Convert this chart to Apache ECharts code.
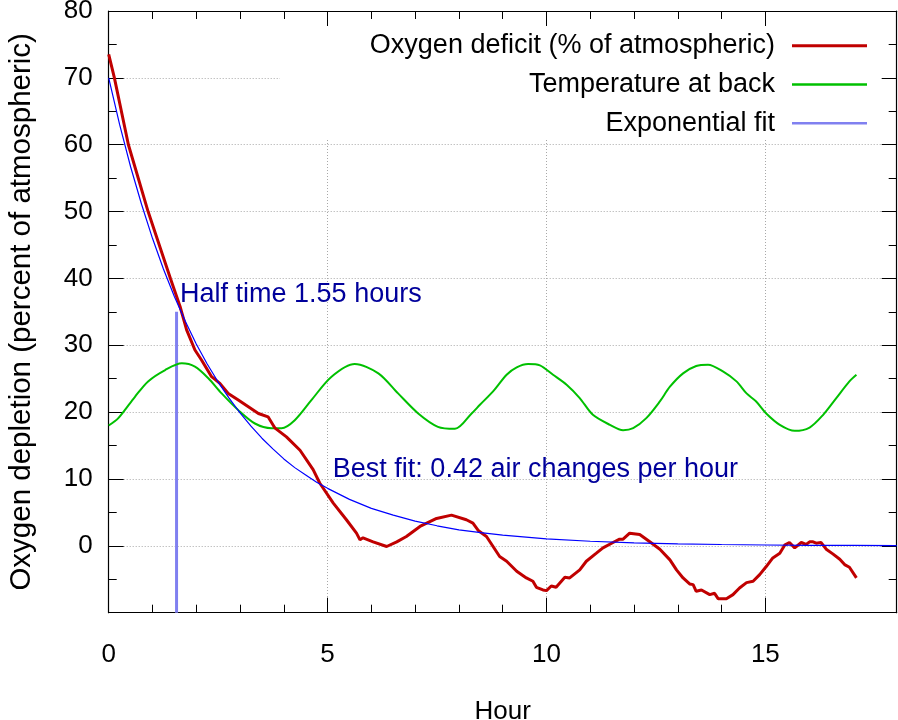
<!DOCTYPE html>
<html>
<head>
<meta charset="utf-8">
<script src="https://cdn.jsdelivr.net/npm/echarts@6/dist/echarts.min.js"></script>
<style>
html,body{margin:0;padding:0;background:#fff;}
#chart{width:898px;height:720px;}
</style>
</head>
<body>
<div id="chart"></div>
<script>
// ---- data ----
const oxyHours = [0, 0.13, 0.45, 0.9, 1.41, 1.63, 1.78, 1.97, 2.12, 2.35, 2.54, 2.73, 2.96, 3.19, 3.42, 3.64, 3.8, 4.06, 4.37, 4.67, 4.82, 5.13, 5.43, 5.66, 5.74, 5.81, 6.04, 6.35, 6.58, 6.8, 7.11, 7.49, 7.83, 8.17, 8.32, 8.44, 8.63, 8.78, 8.93, 9.09, 9.32, 9.54, 9.69, 9.77, 9.92, 10.0, 10.11, 10.22, 10.42, 10.53, 10.76, 10.91, 11.14, 11.29, 11.52, 11.67, 11.75, 11.9, 12.13, 12.36, 12.59, 12.82, 12.97, 13.12, 13.27, 13.35, 13.42, 13.54, 13.73, 13.84, 13.92, 14.11, 14.26, 14.41, 14.57, 14.72, 14.87, 15.02, 15.17, 15.33, 15.44, 15.55, 15.67, 15.82, 15.93, 16.01, 16.09, 16.16, 16.27, 16.39, 16.54, 16.7, 16.81, 16.92, 17.08];
const oxyValues = [73.5, 70, 60, 50, 40, 35.8, 32.3, 29.3, 27.8, 25.3, 24.3, 22.8, 21.8, 20.8, 19.8, 19.3, 17.6, 16.3, 14.3, 11.4, 9.4, 6.4, 3.9, 1.9, 0.9, 1.2, 0.6, -0.1, 0.6, 1.4, 2.9, 4.1, 4.6, 3.9, 3.4, 2.3, 1.4, -0.1, -1.6, -2.3, -3.8, -4.8, -5.3, -6.2, -6.6, -6.7, -6.0, -6.2, -4.7, -4.8, -3.6, -2.3, -1.1, -0.3, 0.5, 1.0, 1.0, 1.9, 1.7, 0.6, -0.5, -2.1, -3.6, -4.8, -5.7, -5.8, -6.8, -6.6, -7.3, -7.1, -7.9, -7.9, -7.3, -6.3, -5.5, -5.3, -4.3, -3.1, -1.8, -1.1, 0.1, 0.5, -0.3, 0.5, 0.2, 0.6, 0.6, 0.4, 0.5, -0.5, -1.2, -2.0, -2.8, -3.2, -4.8];

const tempHours = [0, 0.22, 0.6, 0.9, 1.29, 1.67, 1.97, 2.27, 2.58, 2.96, 3.34, 3.72, 3.95, 4.25, 4.63, 5.09, 5.62, 6.16, 6.61, 7.07, 7.52, 7.91, 8.29, 8.48, 8.78, 9.09, 9.32, 9.58, 9.85, 10.15, 10.46, 10.76, 11.06, 11.45, 11.75, 11.98, 12.28, 12.59, 12.82, 13.12, 13.42, 13.69, 14.03, 14.34, 14.57, 14.79, 15.02, 15.33, 15.67, 16.01, 16.32, 16.62, 16.92, 17.08];
const tempValues = [18.0, 19.1, 22.3, 24.6, 26.3, 27.3, 26.8, 25.1, 22.8, 20.3, 18.3, 17.6, 17.6, 18.8, 21.8, 25.3, 27.2, 25.8, 22.8, 19.8, 17.8, 17.5, 19.8, 21.1, 23.1, 25.6, 26.7, 27.2, 27.0, 25.6, 24.1, 22.1, 19.6, 18.1, 17.3, 17.6, 19.1, 21.6, 23.8, 25.8, 26.9, 27.1, 26.1, 24.6, 22.8, 21.6, 19.8, 18.1, 17.2, 17.7, 19.6, 22.1, 24.6, 25.6];

const fitHours = [0, 0.25, 0.5, 0.75, 1, 1.25, 1.5, 1.75, 2, 2.25, 2.5, 2.75, 3, 3.25, 3.5, 3.75, 4, 4.25, 4.5, 4.75, 5, 5.5, 6, 6.5, 7, 7.5, 8, 8.5, 9, 10, 11, 12, 13, 14, 15, 16, 17, 18];
const fitValues = [70.0, 63.0, 56.7, 51.1, 46.0, 41.4, 37.3, 33.6, 30.2, 27.2, 24.5, 22.1, 19.9, 17.9, 16.1, 14.5, 13.0, 11.7, 10.6, 9.5, 8.6, 6.95, 5.6, 4.6, 3.7, 3.0, 2.4, 1.97, 1.6, 1.05, 0.69, 0.45, 0.30, 0.20, 0.13, 0.08, 0.06, 0.04];

const halfTimeHours = [1.55, 1.55];
const halfTimeValues = [-10, 35];

const xMajorTicks = [0, 5, 10, 15];
const xMinorTicks = [1, 2, 3, 4, 6, 7, 8, 9, 11, 12, 13, 14];

const seriesNames = ['Oxygen deficit (% of atmospheric)', 'Temperature at back', 'Exponential fit'];
const annotations = [
  {text: 'Half time 1.55 hours', at: [1.63, 37.6]},
  {text: 'Best fit: 0.42 air changes per hour', at: [5.12, 11.4]}
];

const zip = (xs, ys) => xs.map((x, i) => [x, ys[i]]);

const FONT = '"Liberation Sans", Arial, Helvetica, sans-serif';
const chart = echarts.init(document.getElementById('chart'), null, {renderer: 'canvas'});

const gridLine = {show: true, lineStyle: {color: '#a8a8a8', type: [1, 2], width: 1}};

function xAxisDef(pos, ticks, len, labels, withLine, z) {
  return {
    type: 'value', min: 0, max: 18, interval: 5, position: pos, z: z,
    axisLine: {show: withLine, onZero: false, lineStyle: {color: '#000', width: 1.2}},
    axisTick: {show: true, inside: true, length: len, customValues: ticks, lineStyle: {color: '#000', width: 1}},
    axisLabel: labels ? {show: true, customValues: xMajorTicks, fontSize: 26, color: '#000', fontFamily: FONT, margin: 29} : {show: false},
    splitLine: (pos === 'bottom' && labels) ? gridLine : {show: false},
    minorTick: {show: false}
  };
}

const option = {
  animation: false,
  backgroundColor: '#fff',
  grid: {left: 108.7, right: 1.3, top: 11, bottom: 107.3, containLabel: false, outerBoundsMode: 'none'},
  xAxis: [
    Object.assign(xAxisDef('bottom', xMajorTicks, 15, true, true, 0), {
      name: 'Hour', nameLocation: 'middle', nameGap: 86,
      nameTextStyle: {fontSize: 26, color: '#000', fontFamily: FONT}
    }),
    xAxisDef('bottom', xMinorTicks, 8, false, false, 3),
    xAxisDef('top', xMajorTicks, 15, false, true, 3),
    xAxisDef('top', xMinorTicks, 8, false, false, 3)
  ],
  yAxis: [
    {
      type: 'value', min: -10, max: 80, interval: 10, position: 'left', z: 0,
      name: 'Oxygen depletion (percent of atmospheric)', nameLocation: 'middle', nameGap: 72, nameRotate: 90,
      nameTextStyle: {fontSize: 29.5, color: '#000', fontFamily: FONT},
      axisLine: {show: true, onZero: false, lineStyle: {color: '#000', width: 1.2}},
      axisTick: {show: true, inside: true, length: 15, lineStyle: {color: '#000'}},
      minorTick: {show: true, splitNumber: 2, length: 8, lineStyle: {color: '#000'}},
      axisLabel: {fontSize: 26, color: '#000', fontFamily: FONT, margin: 16,
        formatter: v => (v === -10 ? '' : String(v))},
      splitLine: gridLine
    },
    {
      type: 'value', min: -10, max: 80, interval: 10, position: 'right', z: 3,
      axisLine: {show: true, onZero: false, lineStyle: {color: '#000', width: 1.2}},
      axisTick: {show: true, inside: true, length: 15, lineStyle: {color: '#000'}},
      minorTick: {show: true, splitNumber: 2, length: 8, lineStyle: {color: '#000'}},
      axisLabel: {show: false},
      splitLine: {show: false}
    }
  ],
  legend: [
    {data: [{name: seriesNames[0]}], top: 32.3, right: 31, itemHeight: 3},
    {data: [{name: seriesNames[1]}], top: 71, right: 31, itemHeight: 2.5},
    {data: [{name: seriesNames[2], itemStyle: {color: '#8080f0'}}], top: 109.7, right: 31, itemHeight: 2.5}
  ].map(l => Object.assign({
    orient: 'vertical', align: 'right', padding: 0, icon: 'rect', itemWidth: 75, z: 4,
    selectedMode: false,
    textStyle: {fontSize: 27, color: '#000', fontFamily: FONT, padding: [0, 12, 0, 0]}
  }, l)),
  series: [
    {
      name: 'halftime', type: 'line', xAxisIndex: 0, yAxisIndex: 0, symbol: 'none', z: 2,
      data: zip(halfTimeHours, halfTimeValues),
      lineStyle: {color: '#8080f0', width: 3}, itemStyle: {color: '#8080f0'}, silent: true
    },
    {
      name: seriesNames[1], type: 'line', symbol: 'none', z: 3,
      data: zip(tempHours, tempValues), smooth: 0.3,
      lineStyle: {color: '#00c000', width: 2}, itemStyle: {color: '#00c000'}
    },
    {
      name: seriesNames[0], type: 'line', symbol: 'none', z: 4,
      data: zip(oxyHours, oxyValues),
      lineStyle: {color: '#c00000', width: 3}, itemStyle: {color: '#c00000'}
    },
    {
      name: seriesNames[2], type: 'line', symbol: 'none', z: 5,
      data: zip(fitHours, fitValues),
      lineStyle: {color: '#0000ff', width: 1.2}, itemStyle: {color: '#0000ff'}
    }
  ]
};
chart.setOption(option);

// legend background (white box hiding the grid behind the key) and text annotations
const tl = chart.convertToPixel({xAxisIndex: 0, yAxisIndex: 0}, [4, 80]);
const graphics = [{
  type: 'rect', z: 1, silent: true,
  shape: {x: 280, y: tl[1] + 1, width: 601, height: 128},
  style: {fill: '#fff'}
}];
annotations.forEach(a => {
  const p = chart.convertToPixel({xAxisIndex: 0, yAxisIndex: 0}, a.at);
  graphics.push({
    type: 'text', x: p[0], y: p[1], z: 10, silent: true,
    style: {text: a.text, fill: '#00009b', font: '27px ' + FONT, textAlign: 'left', textVerticalAlign: 'middle'}
  });
});
chart.setOption({graphic: graphics});
</script>
</body>
</html>
